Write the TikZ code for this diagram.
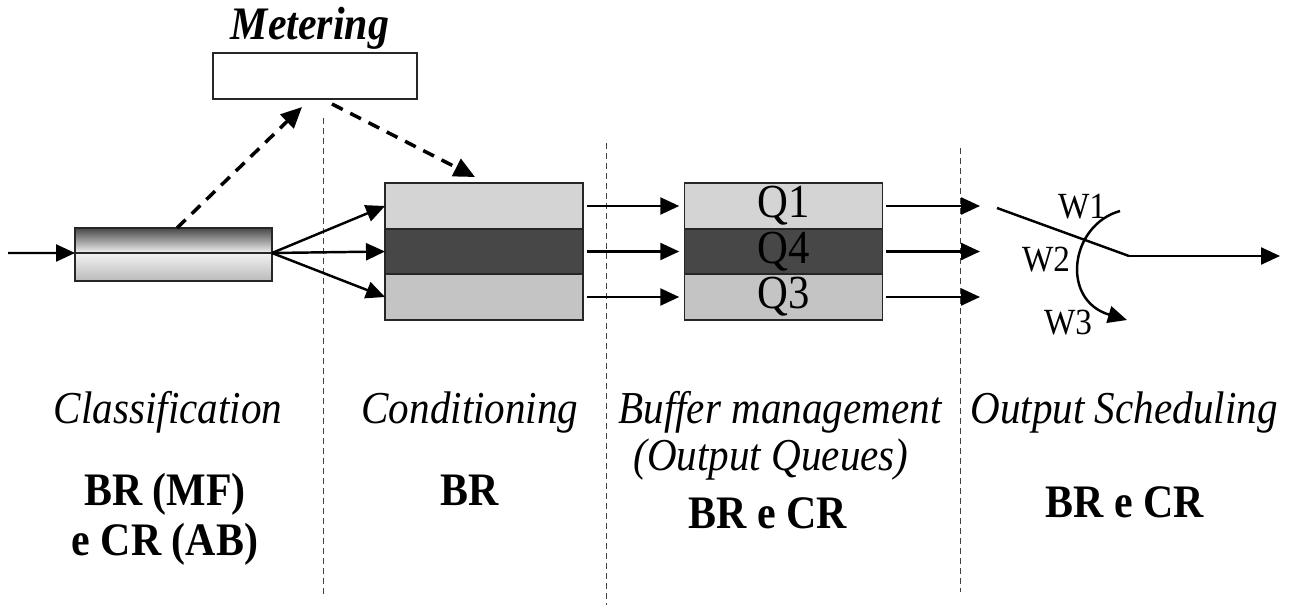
\documentclass[tikz,border=0pt]{standalone}
\usepackage{fontspec}
\setmainfont[FakeStretch=0.9]{Liberation Serif}
\usetikzlibrary{arrows.meta}
\tikzset{
  box/.style={draw=black!85,line width=0.9pt,inner sep=0pt,outer sep=0pt,minimum width=3.96cm},
  arr/.style={line width=1.4pt,-{Triangle[length=0.38cm,width=0.34cm]}},
  dasharr/.style={line width=2pt,dash pattern=on 0.24cm off 0.17cm,-{Triangle[length=0.42cm,width=0.38cm]}},
  sep/.style={line width=0.5pt,black!75,dash pattern=on 0.12cm off 0.08cm},
  stage/.style={draw=none,anchor=base,font=\fontsize{26}{30}\selectfont\itshape},
  ctype/.style={draw=none,anchor=base,font=\fontsize{26.5}{30}\selectfont\bfseries},
  qname/.style={font=\fontsize{27}{29}\selectfont},
  wname/.style={draw=none,anchor=base,font=\fontsize{21}{23}\selectfont},
}
\begin{document}
\begin{tikzpicture}[x=0.02cm,y=-0.02cm]
    \useasboundingbox (0,0) rectangle (1292,608);

    % separators
    \draw [sep] (323,118) -- (323,595);
    \draw [sep] (606,143) -- (606,605);
    \draw [sep] (960,148) -- (960,592);

    % classification
    \coordinate (in) at (8,253);
    \node [box,minimum width=3.94cm,minimum height=0.5cm,top color=black!72,bottom color=black!5] (clsup) at (173.5,240.5) {};
    \node [box,minimum width=3.94cm,minimum height=0.56cm,top color=black!5,bottom color=black!27] (clslow) at (173.5,267) {};
    \draw [arr] (in) -- (clsup.south west);

    % metering
    \node [draw=none,font=\fontsize{26.5}{28}\selectfont\bfseries\itshape,anchor=base] (mtxt) at (310,40) {Metering};
    \node [box,minimum width=4.08cm,minimum height=0.92cm,fill=white] (meter) at (315,76) {};
    \coordinate (m1) at (302,107);
    \coordinate (m2) at (332,104);
    \draw [dasharr] (177,228) -- (m1);
    \draw [dasharr] (m2) -- (475,177);

    % conditioning
    \node [box,minimum height=0.92cm,fill=black!17] (c1) at (484,206) {};
    \node [box,minimum height=0.9cm,fill=black!72] (c2) at (484,251.5) {};
    \node [box,minimum height=0.92cm,fill=black!23] (c3) at (484,297) {};
    \draw [arr] (clsup.south east) -- (c1.west);
    \draw [arr] (clsup.south east) -- (c2.west);
    \draw [arr] (clsup.south east) -- (c3.west);

    % output queues
    \node [box,minimum height=0.92cm,fill=black!17,qname] (q1) at (783.5,206) {Q1};
    \node [box,minimum height=0.9cm,fill=black!72,qname] (q4) at (783.5,251.5) {Q4};
    \node [box,minimum height=0.92cm,fill=black!23,qname] (q3) at (783.5,297) {Q3};
    \draw [arr,shorten <=2pt,shorten >=3pt] (c1.east) -- (q1.west);
    \draw [arr,shorten <=2pt,shorten >=3pt] (c2.east) -- (q4.west);
    \draw [arr,shorten <=2pt,shorten >=3pt] (c3.east) -- (q3.west);

    % output scheduling
    \coordinate (o1) at (980,206);
    \coordinate (o2) at (980,251.5);
    \coordinate (o3) at (980,297);
    \draw [arr,shorten <=2pt] (q1.east) -- (o1);
    \draw [arr,shorten <=2pt] (q4.east) -- (o2);
    \draw [arr,shorten <=2pt] (q3.east) -- (o3);
    \coordinate (sw) at (997,208);
    \coordinate (pivot) at (1129,256);
    \coordinate (out) at (1280,256);
    \draw [line width=1.4pt] (sw) -- (pivot);
    \draw [arr] (pivot) -- (out);
    \coordinate (wa) at (1120,211);
    \coordinate (wb) at (1127,320);
    \draw [arr] (wa) .. controls (1070,225) and (1060,300) .. (wb);
    \node [wname] (w1) at (1082,218) {W1};
    \node [wname] (w2) at (1046,271) {W2};
    \node [wname] (w3) at (1068,334) {W3};

    % stage labels
    \node [stage] (l1) at (168,423) {Classification};
    \node [stage] (l2) at (470,423) {Conditioning};
    \node [stage] (l3) at (780,423) {Buffer management};
    \node [stage] (l3b) at (771,470) {(Output Queues)};
    \node [stage] (l4) at (1124,423) {Output Scheduling};
    \node [ctype] (t1) at (165,505) {BR (MF)};
    \node [ctype] (t1b) at (165,555) {e CR (AB)};
    \node [ctype] (t2) at (470,505) {BR};
    \node [ctype] (t3) at (768,528) {BR e CR};
    \node [ctype] (t4) at (1125,517) {BR e CR};
\end{tikzpicture}
\end{document}
